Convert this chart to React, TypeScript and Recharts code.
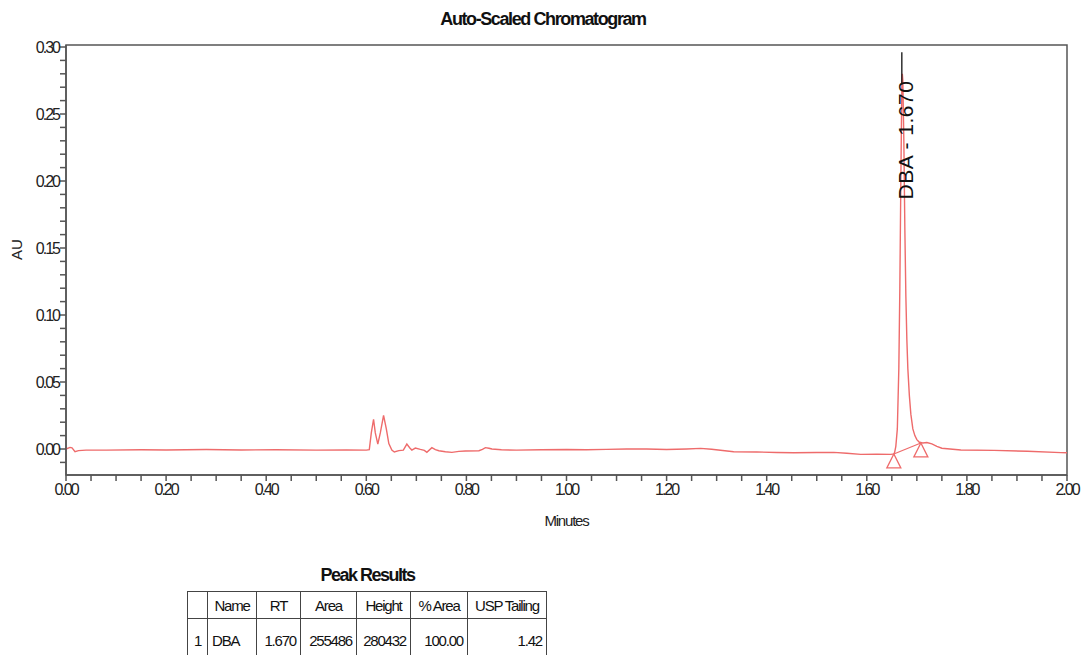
import {
    ComposedChart,
    Line,
    XAxis,
    YAxis,
    ReferenceArea,
    ReferenceLine,
    ReferenceDot,
} from 'recharts';

// retention time (min) and absorbance (AU)
const times = [
    0.0, 0.008, 0.012, 0.018, 0.025, 0.04, 0.08, 0.15, 0.2, 0.28, 0.35, 0.42, 0.5, 0.56, 0.6,
    0.606, 0.61, 0.6145, 0.618, 0.623, 0.628, 0.6345, 0.64, 0.645, 0.651, 0.656, 0.665, 0.674,
    0.681, 0.687, 0.691, 0.698, 0.708, 0.716, 0.721, 0.731, 0.738, 0.745, 0.758, 0.771, 0.785,
    0.798, 0.825, 0.832, 0.838, 0.845, 0.851, 0.87, 0.9, 0.95, 1.0, 1.04, 1.08, 1.12, 1.16, 1.2,
    1.24, 1.268, 1.29, 1.334, 1.38, 1.42, 1.454, 1.5, 1.534, 1.56, 1.588, 1.62, 1.648, 1.655,
    1.658, 1.661, 1.664, 1.666, 1.668, 1.67, 1.671, 1.672, 1.674, 1.676, 1.678, 1.68, 1.682,
    1.685, 1.688, 1.692, 1.696, 1.7, 1.705, 1.712, 1.72, 1.73, 1.74, 1.75, 1.788, 1.854, 1.921,
    1.988, 2.0,
];
const absorbance = [
    0.0, 0.0012, 0.0008, -0.002, -0.0012, -0.0008, -0.0008, -0.0006, -0.0007, -0.0004, -0.0007,
    -0.0006, -0.0008, -0.0007, -0.0008, -0.0005, 0.012, 0.0222, 0.012, 0.0037, 0.012, 0.0251,
    0.015, 0.004, -0.0008, -0.0022, -0.0012, -0.0008, 0.0037, 0.0008, -0.0008, 0.0007, -0.0003,
    -0.001, -0.0025, 0.001, -0.0005, -0.0013, -0.002, -0.0025, -0.0018, -0.0015, -0.0013,
    -0.0002, 0.001, 0.0006, 0.0, -0.0006, -0.0008, -0.0006, -0.0004, -0.0006, -0.0003, 0.0, 0.0,
    -0.0004, 0.0, 0.0005, -0.0002, -0.002, -0.0022, -0.0026, -0.0028, -0.0026, -0.0025, -0.0032,
    -0.004, -0.0038, -0.004, -0.0037, 0.002, 0.015, 0.06, 0.12, 0.2, 0.27, 0.28, 0.275, 0.23,
    0.165, 0.115, 0.082, 0.06, 0.04, 0.026, 0.015, 0.01, 0.007, 0.005, 0.0045, 0.0048, 0.0038,
    0.002, 0.0006, -0.0007, -0.001, -0.0017, -0.0027, -0.0028,
];

const xLabelValues = [0, 0.2, 0.4, 0.6, 0.8, 1.0, 1.2, 1.4, 1.6, 1.8, 2.0];
const xLabels = ['0.00', '0.20', '0.40', '0.60', '0.80', '1.00', '1.20', '1.40', '1.60', '1.80', '2.00'];
const yLabelValues = [0, 0.05, 0.1, 0.15, 0.2, 0.25, 0.3];
const yLabels = ['0.00', '0.05', '0.10', '0.15', '0.20', '0.25', '0.30'];

// integration marks of the DBA peak
const peakName = 'DBA';
const peakRT = 1.67;
const peakStart = { x: 1.654, y: -0.0037 };
const peakEnd = { x: 1.708, y: 0.0045 };

const tableHeaders = ['', 'Name', 'RT', 'Area', 'Height', '% Area', 'USP Tailing'];
const tableRow = ['1', 'DBA', '1.670', '255486', '280432', '100.00', '1.42'];

const data = times.map((t, i) => ({ t, au: absorbance[i] }));

const yMin = -0.0194;
const yMax = 0.3015;
const xTicks = Array.from({ length: 41 }, (_, i) => Math.round(i * 5) / 100);
const yTicks = Array.from({ length: 32 }, (_, i) => Math.round(i - 1) / 100);

const labelFor = (values: number[], labels: string[]) => (v: number) => {
    const i = values.findIndex((x) => Math.abs(x - v) < 1e-6);
    return i >= 0 ? labels[i] : '';
};

const FONT = "'Liberation Sans', Arial, sans-serif";
const RED = '#ee6b6b';
const AXIS = '#555';

const Triangle = (props: any) => {
    const { cx, cy } = props;
    return (
        <path
            d={`M${cx},${cy} L${cx - 7},${cy + 14} L${cx + 7},${cy + 14} Z`}
            fill="none"
            stroke={RED}
            strokeWidth={1.3}
        />
    );
};

const PeakLabel = (props: any) => {
    const { cx, cy } = props;
    const x = cx + 4;
    return (
        <text
            x={x}
            y={cy}
            transform={`rotate(-90 ${x} ${cy})`}
            textAnchor="middle"
            dominantBaseline="central"
            fontFamily={FONT}
            fontSize={21}
            letterSpacing={0.5}
            fill="#111"
        >
            {`${peakName} - ${peakRT.toFixed(3)}`}
        </text>
    );
};

const cell = (i: number, header: boolean) => ({
    border: '1px solid #444',
    padding: '0 4px',
    textAlign: (i === 1 && !header ? 'left' : header || i === 0 ? 'center' : 'right') as any,
    fontSize: 15,
    letterSpacing: -1.2,
    color: '#111',
    whiteSpace: 'nowrap' as any,
});

const colWidths = [20, 49, 44, 56, 54, 57, 79];
const tickStyle = { fontSize: 16, letterSpacing: -2, fill: '#222', fontFamily: FONT };

export default function App() {
    return (
        <div
            style={{
                position: 'absolute',
                left: 0,
                top: 0,
                width: 1084,
                height: 655,
                overflow: 'hidden',
                background: '#fff',
                fontFamily: FONT,
            }}
        >
            <div
                style={{
                    position: 'absolute',
                    top: 9,
                    left: 0,
                    width: 1086,
                    textAlign: 'center',
                    fontWeight: 'bold',
                    fontSize: 18,
                    letterSpacing: -1.4,
                    color: '#111',
                }}
            >
                Auto-Scaled Chromatogram
            </div>
            <div style={{ position: 'absolute', left: 0, top: 0 }}>
                <ComposedChart
                    width={1084}
                    height={540}
                    data={data}
                    margin={{ top: 45, right: 17, bottom: 25, left: 8 }}
                >
                    <ReferenceArea
                        x1={0}
                        x2={2}
                        y1={yMin}
                        y2={yMax}
                        fill="none"
                        stroke={AXIS}
                        strokeWidth={1.5}
                        ifOverflow="visible"
                    />
                    <XAxis
                        dataKey="t"
                        type="number"
                        domain={[0, 2]}
                        ticks={xTicks}
                        interval={0}
                        tickFormatter={labelFor(xLabelValues, xLabels)}
                        stroke={AXIS}
                        strokeWidth={1.5}
                        tickSize={6}
                        tickMargin={3}
                        height={40}
                        tick={tickStyle}
                        label={{
                            value: 'Minutes',
                            position: 'insideBottom',
                            offset: -11,
                            fontSize: 15,
                            letterSpacing: -1.2,
                            fill: '#222',
                            fontFamily: FONT,
                        }}
                    />
                    <YAxis
                        type="number"
                        domain={[yMin, yMax]}
                        ticks={yTicks}
                        interval={0}
                        allowDataOverflow
                        tickFormatter={labelFor(yLabelValues, yLabels)}
                        stroke={AXIS}
                        strokeWidth={1.5}
                        tickSize={6}
                        tickMargin={1}
                        width={58}
                        tick={tickStyle}
                        label={{
                            value: 'AU',
                            angle: -90,
                            position: 'insideLeft',
                            offset: 9,
                            fontSize: 15,
                            fill: '#222',
                            fontFamily: FONT,
                        }}
                    />
                    <Line
                        type="linear"
                        dataKey="au"
                        stroke={RED}
                        strokeWidth={1.4}
                        dot={false}
                        isAnimationActive={false}
                    />
                    <ReferenceLine
                        segment={[peakStart, peakEnd]}
                        stroke={RED}
                        strokeWidth={1.2}
                    />
                    <ReferenceLine
                        segment={[
                            { x: peakRT, y: 0.296 },
                            { x: peakRT, y: 0.272 },
                        ]}
                        stroke="#111"
                        strokeWidth={1.3}
                    />
                    <ReferenceDot x={peakStart.x} y={peakStart.y} shape={Triangle} ifOverflow="visible" />
                    <ReferenceDot x={peakEnd.x} y={peakEnd.y} shape={Triangle} ifOverflow="visible" />
                    <ReferenceDot x={peakRT} y={0.2306} shape={PeakLabel} ifOverflow="visible" />
                </ComposedChart>
            </div>
            <div
                style={{
                    position: 'absolute',
                    top: 565,
                    left: 187,
                    width: 361,
                    textAlign: 'center',
                    fontWeight: 'bold',
                    fontSize: 18,
                    letterSpacing: -1.5,
                    color: '#111',
                }}
            >
                Peak Results
            </div>
            <table
                style={{
                    position: 'absolute',
                    top: 591,
                    left: 187,
                    borderCollapse: 'collapse',
                    tableLayout: 'fixed',
                    fontFamily: FONT,
                }}
            >
                <colgroup>
                    {colWidths.map((w, i) => (
                        <col key={i} style={{ width: w }} />
                    ))}
                </colgroup>
                <tbody>
                    <tr style={{ height: 27 }}>
                        {tableHeaders.map((h, i) => (
                            <td key={i} style={cell(i, true)}>
                                {h}
                            </td>
                        ))}
                    </tr>
                    <tr style={{ height: 48 }}>
                        {tableRow.map((v, i) => (
                            <td key={i} style={{ ...cell(i, false), verticalAlign: 'top', paddingTop: 13 }}>
                                {v}
                            </td>
                        ))}
                    </tr>
                </tbody>
            </table>
        </div>
    );
}
